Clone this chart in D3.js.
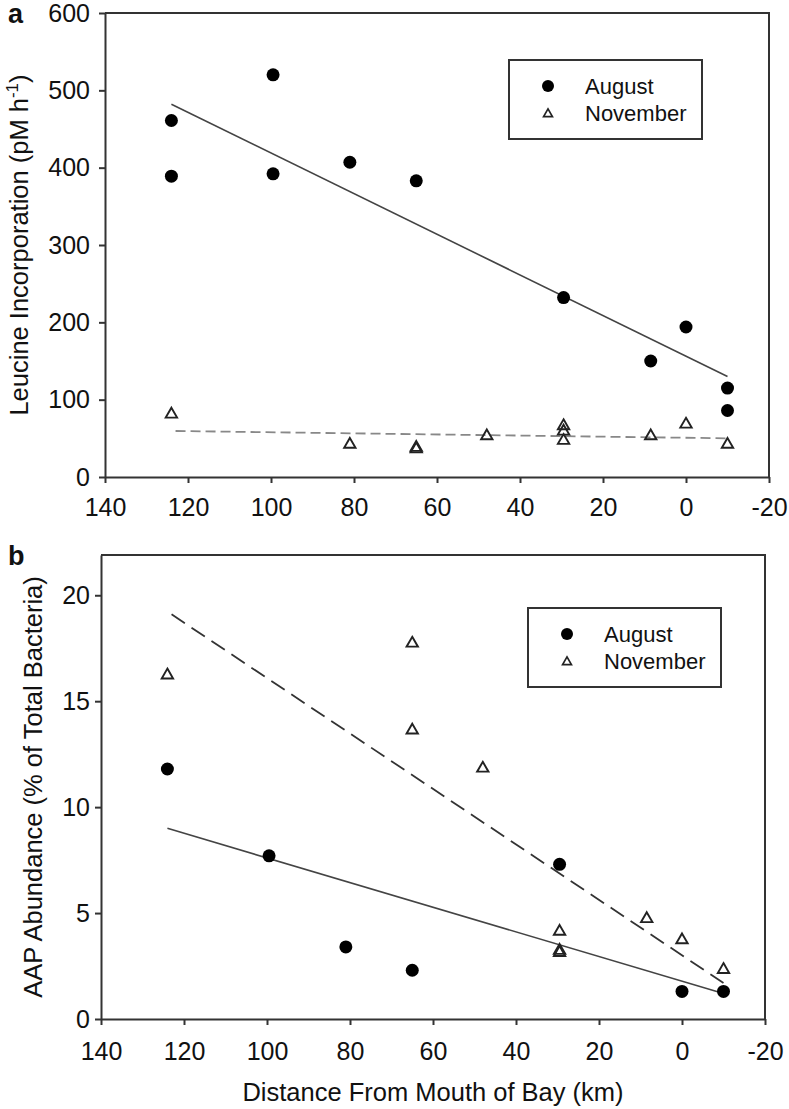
<!DOCTYPE html>
<html>
<head>
<meta charset="utf-8">
<script src="https://cdn.jsdelivr.net/npm/d3@7"></script>
<style>
  body { margin: 0; background: white; }
  text { font-family: "Liberation Sans", Arial, sans-serif; fill: #111; }
</style>
</head>
<body>
<div id="chart"></div>
<script>
// distance from mouth of bay (km), x ticks shared by both panels
const distTicks = [140, 120, 100, 80, 60, 40, 20, 0, -20]

// panel a: leucine incorporation (pM h-1)
const leuTicks = [0, 100, 200, 300, 400, 500, 600]
const leuAugDist = [124, 124, 99.5, 99.5, 81, 65, 29.5, 8.5, 0, -10, -10]
const leuAugValue = [461, 389, 520, 392, 407, 383, 232, 150, 194, 115, 86]
const leuNovDist = [124, 81, 65, 65, 48, 29.5, 29.5, 29.5, 8.5, 0, -10]
const leuNovValue = [83, 44, 38, 40, 55, 68, 61, 49, 55, 70, 44]
const leuAugFitDist = [124, -10]
const leuAugFitValue = [482, 130]
const leuNovFitDist = [123, -10]
const leuNovFitValue = [59.5, 50]

// panel b: AAP abundance (% of total bacteria)
const aapTicks = [0, 5, 10, 15, 20]
const aapAugDist = [124, 99.5, 81, 65, 29.5, 0, -10]
const aapAugValue = [11.8, 7.7, 3.4, 2.3, 7.3, 1.3, 1.3]
const aapNovDist = [124, 65, 65, 48, 29.5, 29.5, 29.5, 8.5, 0, -10]
const aapNovValue = [16.3, 17.8, 13.7, 11.9, 4.2, 3.3, 3.2, 4.8, 3.8, 2.4]
const aapAugFitDist = [124, -10]
const aapAugFitValue = [9.0, 1.2]
const aapNovFitDist = [123, -10]
const aapNovFitValue = [19.1, 1.7]

const seriesNames = ['August', 'November']

const totalWidth = 789
const totalHeight = 1109
const axisColor = '#333'

const svg = d3.select('#chart')
    .append('svg')
    .attr('width', totalWidth)
    .attr('height', totalHeight)
    .style('background', 'white')

function zip(a, b) {
    return a.map((d, i) => [d, b[i]])
}

function drawPanel(p) {
    let x = d3.scaleLinear().domain([140, -20]).range([p.left, p.right])
    let y = d3.scaleLinear().domain(p.yDomain).range([p.bottom, p.top])
    let g = svg.append('g')

    // frame top/right
    g.append('path')
        .attr('d', `M${p.left},${p.top}H${p.right}V${p.bottom}`)
        .attr('fill', 'none')
        .attr('stroke', axisColor)
        .attr('stroke-width', 2)

    // plain hyphen for negative ticks, like the original
    let fmt = d => String(d)
    let xAxis = g.append('g')
        .attr('transform', `translate(0,${p.bottom})`)
        .call(d3.axisBottom(x).tickValues(distTicks).tickFormat(fmt)
            .tickSize(6).tickSizeOuter(0).tickPadding(p.xPad))
    let yAxis = g.append('g')
        .attr('transform', `translate(${p.left},0)`)
        .call(d3.axisLeft(y).tickValues(p.yTicks).tickFormat(fmt)
            .tickSize(6).tickSizeOuter(0).tickPadding(p.yPad))
    for (let a of [xAxis, yAxis]) {
        a.select('.domain').attr('stroke', axisColor).attr('stroke-width', 2)
        a.selectAll('.tick line').attr('stroke', axisColor).attr('stroke-width', 2)
        a.selectAll('.tick text')
            .attr('font-size', 25)
            .attr('font-family', '"Liberation Sans", Arial, sans-serif')
            .attr('fill', '#111')
    }

    let line = d3.line().x(d => x(d[0])).y(d => y(d[1]))
    g.append('path')
        .attr('d', line(zip(p.augFitDist, p.augFitValue)))
        .attr('fill', 'none')
        .attr('stroke', '#444')
        .attr('stroke-width', 1.6)
    g.append('path')
        .attr('d', line(zip(p.novFitDist, p.novFitValue)))
        .attr('fill', 'none')
        .attr('stroke', p.novColor)
        .attr('stroke-width', 1.8)
        .attr('stroke-dasharray', p.dash)

    let tri = d3.symbol().type(d3.symbolTriangle).size(56)
    g.selectAll('path.nov')
        .data(zip(p.novDist, p.novValue))
        .enter()
        .append('path')
        .attr('class', 'nov')
        .attr('d', tri)
        .attr('transform', d => `translate(${x(d[0])},${y(d[1]) + 1.5})`)
        .attr('fill', 'none')
        .attr('stroke', '#222')
        .attr('stroke-width', 1.9)

    g.selectAll('circle.aug')
        .data(zip(p.augDist, p.augValue))
        .enter()
        .append('circle')
        .attr('class', 'aug')
        .attr('cx', d => x(d[0]))
        .attr('cy', d => y(d[1]))
        .attr('r', 6.5)
        .attr('fill', '#000')

    // legend
    let lg = g.append('g')
    lg.append('rect')
        .attr('x', p.legend.x)
        .attr('y', p.legend.y)
        .attr('width', 193)
        .attr('height', 79)
        .attr('fill', 'white')
        .attr('stroke', axisColor)
        .attr('stroke-width', 2)
    lg.append('circle')
        .attr('cx', p.legend.x + 39)
        .attr('cy', p.legend.y + 26)
        .attr('r', 6)
        .attr('fill', '#000')
    lg.append('path')
        .attr('d', d3.symbol().type(d3.symbolTriangle).size(34)())
        .attr('transform', `translate(${p.legend.x + 39},${p.legend.y + 54})`)
        .attr('fill', 'none')
        .attr('stroke', '#222')
        .attr('stroke-width', 1.7)
    lg.selectAll('text')
        .data(seriesNames)
        .enter()
        .append('text')
        .attr('x', p.legend.x + 76)
        .attr('y', (d, i) => p.legend.y + 26 + i * 27)
        .attr('dominant-baseline', 'central')
        .attr('font-size', 22)
        .text(d => d)

    // panel letter
    g.append('text')
        .attr('x', 8)
        .attr('y', p.letterY)
        .attr('font-size', 27)
        .attr('font-weight', 'bold')
        .text(p.letter)

    // y title
    let yt = g.append('text')
        .attr('transform', 'rotate(-90)')
        .attr('x', -(p.top + p.bottom) / 2)
        .attr('y', p.yTitleX)
        .attr('text-anchor', 'middle')
        .attr('font-size', 25.5)
    p.yTitle(yt)

    return { x, y }
}

drawPanel({
    left: 105, right: 769, top: 13, bottom: 477,
    yDomain: [0, 600], yTicks: leuTicks, xPad: 15, yPad: 9,
    augDist: leuAugDist, augValue: leuAugValue,
    novDist: leuNovDist, novValue: leuNovValue,
    augFitDist: leuAugFitDist, augFitValue: leuAugFitValue,
    novFitDist: leuNovFitDist, novFitValue: leuNovFitValue,
    novColor: '#888', dash: '10,5',
    legend: { x: 509, y: 60 },
    letter: 'a', letterY: 23,
    yTitleX: 28,
    yTitle: t => {
        t.append('tspan').text('Leucine Incorporation (pM h')
        t.append('tspan').attr('font-size', 17).attr('dy', -10).text('-1')
        t.append('tspan').attr('dy', 10).text(')')
    }
})

drawPanel({
    left: 101, right: 765, top: 555, bottom: 1019,
    yDomain: [0, 21.9], yTicks: aapTicks, xPad: 17, yPad: 5,
    augDist: aapAugDist, augValue: aapAugValue,
    novDist: aapNovDist, novValue: aapNovValue,
    augFitDist: aapAugFitDist, augFitValue: aapAugFitValue,
    novFitDist: aapNovFitDist, novFitValue: aapNovFitValue,
    novColor: '#333', dash: '16,8',
    legend: { x: 528, y: 608 },
    letter: 'b', letterY: 565,
    yTitleX: 42,
    yTitle: t => t.text('AAP Abundance (% of Total Bacteria)')
})

svg.append('text')
    .attr('x', 433)
    .attr('y', 1101)
    .attr('text-anchor', 'middle')
    .attr('font-size', 25.5)
    .text('Distance From Mouth of Bay (km)')
</script>
</body>
</html>
